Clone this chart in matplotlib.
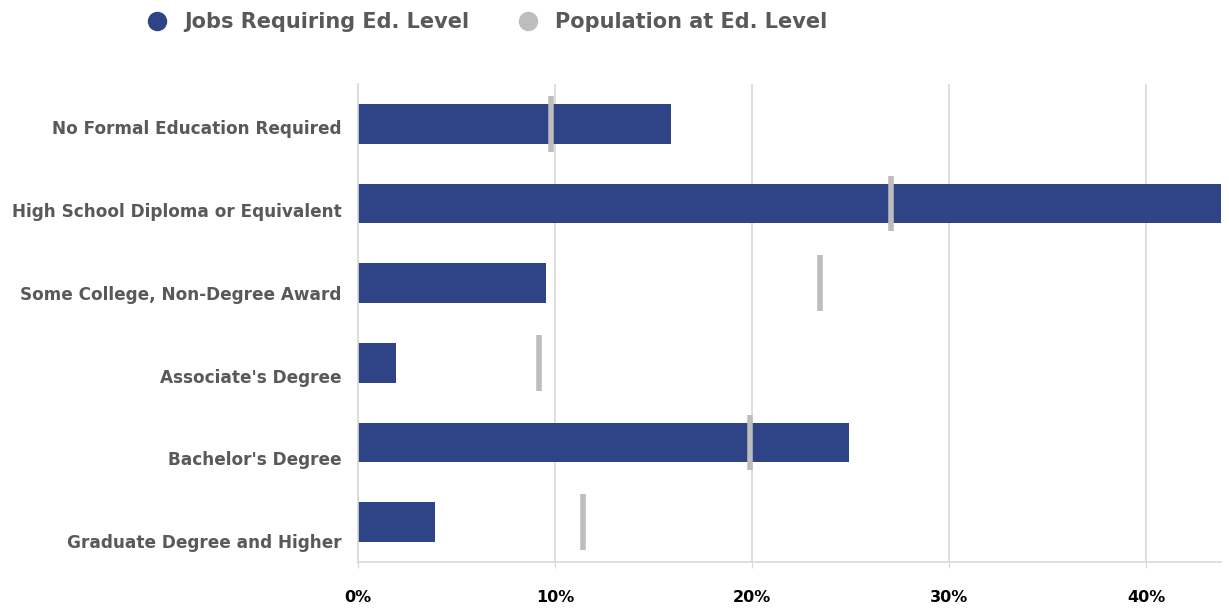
import matplotlib
matplotlib.use("Agg")

import matplotlib.pyplot as plt
from matplotlib.lines import Line2D
from matplotlib.ticker import FuncFormatter

categories = [
    "No Formal Education Required",
    "High School Diploma or Equivalent",
    "Some College, Non-Degree Award",
    "Associate's Degree",
    "Bachelor's Degree",
    "Graduate Degree and Higher",
]
jobs_pct = [15.9, 43.8, 9.55, 1.95, 24.9, 3.9]
population_pct = [9.8, 27.05, 23.45, 9.2, 19.9, 11.4]
x_ticks = [0, 10, 20, 30, 40]

NAVY = "#2E4486"
GRAY = "#BDBDBD"
TEXT = "#595959"

plt.rcParams["font.family"] = "DejaVu Sans"

fig = plt.figure(figsize=(12.29, 6.10), dpi=100)
ax = fig.add_axes([358 / 1229, 1 - 562 / 610, (1221 - 358) / 1229, (562 - 84) / 610])

ypos = list(range(len(categories)))
ax.barh(ypos, jobs_pct, height=0.5, color=NAVY, zorder=2)

# population markers: short vertical ticks across each bar
for y, p in zip(ypos, population_pct):
    ax.plot([p, p], [y - 0.35, y + 0.35], color=GRAY, lw=4,
            solid_capstyle="butt", zorder=3)

ax.set_xlim(0, 43.8)
ax.set_ylim(len(categories) - 0.5, -0.5)

# category labels drift slightly lower than the bars in the original
ax.set_yticks([0.04 + 1.04 * y for y in ypos])
ax.set_yticklabels(categories, fontsize=12.2, fontweight="bold", color=TEXT)
ax.tick_params(axis="y", length=0, pad=12)

ax.set_xticks(x_ticks)
ax.xaxis.set_major_formatter(FuncFormatter(lambda v, _: f"{v:.0f}%"))
ax.tick_params(axis="x", length=4, color="#D9D9D9", pad=16,
               labelsize=11.5, labelcolor="black")
for lbl in ax.get_xticklabels():
    lbl.set_fontweight("bold")

ax.grid(axis="x", color="#D9D9D9", lw=1.2, zorder=0)
ax.set_axisbelow(True)
for side in ["top", "right"]:
    ax.spines[side].set_visible(False)
ax.spines["left"].set_color("#D9D9D9")
ax.spines["bottom"].set_color("#D9D9D9")
ax.spines["left"].set_linewidth(1.2)
ax.spines["bottom"].set_linewidth(1.2)

handles = [
    Line2D([], [], marker="o", ls="", color=NAVY, markersize=13),
    Line2D([], [], marker="o", ls="", color=GRAY, markersize=13),
]
fig.legend(handles, ["Jobs Requiring Ed. Level", "Population at Ed. Level"],
           loc="center", bbox_to_anchor=(0.392, 1 - 22 / 610), ncol=2,
           frameon=False, handletextpad=0.3, columnspacing=1.8,
           prop={"weight": "bold", "size": 15}, labelcolor=TEXT)

fig.savefig("out.png", dpi=100)
